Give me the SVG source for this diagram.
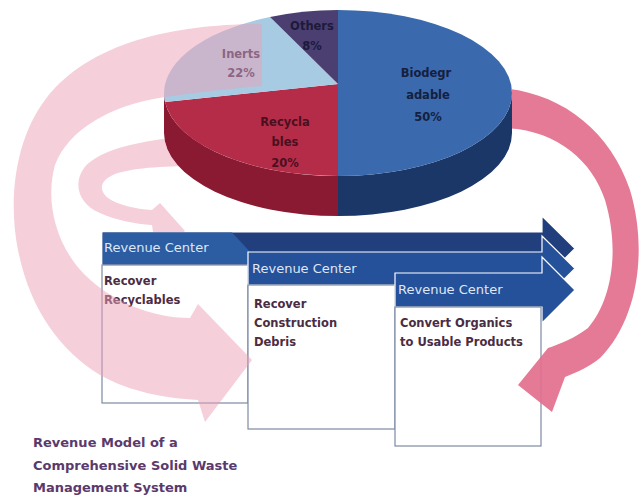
<svg xmlns="http://www.w3.org/2000/svg" width="642" height="496" viewBox="0 0 642 496">
<style>
.hdr{font-family:"DejaVu Sans","Liberation Sans",sans-serif;font-size:13px;fill:#dfe7f5}
.body{font-family:"DejaVu Sans","Liberation Sans",sans-serif;font-size:11.5px;font-weight:bold;fill:#4b2c43}
.pl{font-family:"DejaVu Sans","Liberation Sans",sans-serif;font-size:11.5px;font-weight:bold;text-anchor:middle}
.cap{font-family:"DejaVu Sans","Liberation Sans",sans-serif;font-size:13px;font-weight:bold;fill:#5a3a6b}
.arw{stroke:#ffffff;stroke-width:1.2}
.box{fill:#ffffff;stroke:#7d8ba3;stroke-width:1.2}
.lpink{fill:#ec9fb5;opacity:0.5}
</style>
<defs>
<clipPath id="clipTop"><rect x="0" y="0" width="642" height="232"/></clipPath>
<clipPath id="clipPie"><path clip-rule="evenodd" d="M0,0H642V496H0Z M164,93 A174,83 0 0 1 512,93 L512,133 A174,83 0 0 1 164,133 Z"/></clipPath>
</defs>
<rect width="642" height="496" fill="#ffffff"/>

<g id="pie">
  <path d="M164,93 A174,83 0 0 0 338,176 L338,216 A174,83 0 0 1 164,133 Z" fill="#8a1a31"/>
  <path d="M338,176 A174,83 0 0 0 512,93 L512,133 A174,83 0 0 1 338,216 Z" fill="#1b3768"/>
  <path d="M338,84 L338,10 A174,83 0 0 1 338,176 Z" fill="#3a69ad"/>
  <path d="M338,84 L338,176 A174,83 0 0 1 165,102 Z" fill="#b52c48"/>
  <path d="M338,84 L165,102 A174,83 0 0 1 270,17 Z" fill="#a7cbe2"/>
  <path d="M338,84 L270,17 A174,83 0 0 1 338,10 Z" fill="#4b3f72"/>
  <text class="pl" x="312" y="30" fill="#1d1a3a">Others</text>
  <text class="pl" x="312" y="50" fill="#1d1a3a">8%</text>
  <text class="pl" x="241" y="58" fill="#2a2a50">Inerts</text>
  <text class="pl" x="241" y="77" fill="#2a2a50">22%</text>
  <text class="pl" x="426" y="77" fill="#15203f">Biodegr</text>
  <text class="pl" x="428" y="99" fill="#15203f">adable</text>
  <text class="pl" x="428" y="121" fill="#15203f">50%</text>
  <text class="pl" x="285" y="126" fill="#4a1020">Recycla</text>
  <text class="pl" x="285" y="146" fill="#4a1020">bles</text>
  <text class="pl" x="285" y="167" fill="#4a1020">20%</text>
</g>

<g id="rc1">
  <path class="arw" d="M102,232 H542 V216 L575,248.5 L542,281 V265 H102 Z" fill="#213f7c"/>
  <path d="M102.6,232.6 H232 L252,254 V264.4 H102.6 Z" fill="#2c5da3"/>
  <text class="hdr" x="104" y="252">Revenue Center</text>
  <rect class="box" x="102" y="265" width="146" height="138"/>
  <text class="body" x="104" y="285">Recover</text>
  <text class="body" x="104" y="304">Recyclables</text>
</g>

<g id="rc2">
  <path class="arw" d="M248,252 H542 V236 L575,268.5 L542,301 V285 H248 Z" fill="#25509a"/>
  <text class="hdr" x="252" y="273">Revenue Center</text>
  <rect class="box" x="248" y="285" width="147" height="144"/>
  <text class="body" x="254" y="308">Recover</text>
  <text class="body" x="254" y="327">Construction</text>
  <text class="body" x="254" y="346">Debris</text>
</g>

<g id="rc3">
  <path class="arw" d="M395,273 H542 V257 L575,290 L542,323 V307 H395 Z" fill="#25509a"/>
  <text class="hdr" x="398" y="294">Revenue Center</text>
  <rect class="box" x="395" y="307" width="146" height="139"/>
  <text class="body" x="400" y="327">Convert Organics</text>
  <text class="body" x="400" y="346">to Usable Products</text>
</g>

<g id="connectors">
  <path class="lpink" d="M262,24 C180,24 90,40 45,100 C15,140 8,200 18,250 C30,310 60,350 100,375 C130,392 165,398 198,400 L205,422 L252,360 L198,304 L190,318 C150,318 110,300 85,275 C55,245 45,200 55,165 C68,130 110,105 165,97 C200,92 235,88 262,86 Z"/>
  <g clip-path="url(#clipTop)">
    <path class="lpink" clip-path="url(#clipPie)" d="M200,136 C150,138 100,148 84,168 C72,185 80,205 100,213 C115,220 135,224 152,225 L156,252 L185,231 L160,203 L152,210 C135,209 118,205 108,198 C98,190 100,180 115,174 C135,167 170,166 200,166 Z"/>
  </g>
  <path clip-path="url(#clipPie)" fill="#e2708e" opacity="0.93" d="M500,88 C560,92 610,130 630,190 C648,250 638,320 600,358 C590,366 578,372 565,377 L552,412 L518,385 L548,348 C560,344 575,338 588,328 C612,300 620,250 605,200 C592,160 555,128 500,128 Z"/>
</g>

<g id="caption">
  <text class="cap" x="33" y="447">Revenue Model of a</text>
  <text class="cap" x="33" y="470">Comprehensive Solid Waste</text>
  <text class="cap" x="33" y="492">Management System</text>
</g>
</svg>
